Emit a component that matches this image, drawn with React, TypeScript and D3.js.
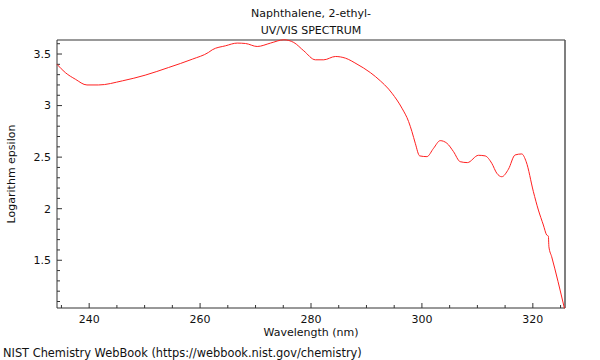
import React from 'react'
import * as d3 from 'd3'

// spectrum: wavelength (nm) and log epsilon
const wavelengths = [
  234.2, 235.7, 237.5, 239.6, 241.7, 246.0, 250.1, 254.3, 258.6, 261.5, 262.2, 264.6,
  266.7, 268.2, 270.3, 272.7, 275.1, 276.9, 278.7, 280.8, 282.3, 284.4, 286.2, 288.3,
  290.7, 292.5, 294.0, 294.6, 296.4, 297.6, 298.2, 298.8, 299.6, 300.9, 302.1, 303.3,
  304.5, 305.7, 306.9, 308.2, 310.2, 311.4, 312.6, 313.5, 314.4, 315.6, 316.8, 318.0,
  318.8, 320.1, 321.0, 321.9, 322.5, 322.8, 322.9, 323.4, 325.7,
]
const logEpsilon = [
  3.40, 3.32, 3.256, 3.20, 3.20, 3.24, 3.295, 3.369, 3.45, 3.515, 3.541, 3.58,
  3.606, 3.602, 3.573, 3.606, 3.638, 3.612, 3.531, 3.444, 3.444, 3.476, 3.46, 3.402,
  3.32, 3.24, 3.16, 3.12, 2.975, 2.845, 2.748, 2.635, 2.512, 2.505, 2.586, 2.66,
  2.635, 2.553, 2.456, 2.447, 2.518, 2.512, 2.44, 2.344, 2.31, 2.383, 2.521, 2.531,
  2.456, 2.165, 1.987, 1.842, 1.745, 1.735, 1.631, 1.534, 1.033,
]
const xTickValues = [240, 260, 280, 300, 320]
const yTickValues = [1.5, 2, 2.5, 3, 3.5]

const title = 'Naphthalene, 2-ethyl-'
const subtitle = 'UV/VIS SPECTRUM'

function App() {
  const width = 600
  const height = 360
  const margin = { top: 40, right: 35, bottom: 52, left: 57 }
  const innerW = width - margin.left - margin.right
  const innerH = height - margin.top - margin.bottom

  const xScale = d3.scaleLinear().domain([234.2, 325.8]).range([0, innerW])
  const yScale = d3.scaleLinear().domain([1.037, 3.636]).range([innerH, 0])

  const points = wavelengths.map((w, i) => [w, logEpsilon[i]] as [number, number])
  const line = d3
    .line<[number, number]>()
    .x(d => xScale(d[0]))
    .y(d => yScale(d[1]))
    .curve(d3.curveMonotoneX)

  const xMinor = d3.range(235, 326, 5).filter(t => !xTickValues.includes(t))
  const yMinor = d3.range(11, 37).map(v => v / 10).filter(t => !yTickValues.includes(t))

  const font = { fontFamily: '"DejaVu Sans", sans-serif', fontSize: 11, fill: '#111' }
  const cx = margin.left + innerW / 2

  return (
    <svg width={width} height={height} style={{ position: 'absolute', left: 0, top: 0 }}>
      <rect width={width} height={height} fill="white" />
      <text x={cx} y={17} textAnchor="middle" {...font}>{title}</text>
      <text x={cx} y={34} textAnchor="middle" {...font}>{subtitle}</text>

      <g transform={`translate(${margin.left} ${margin.top})`}>
        {/* frame: grey top and right, dark axes */}
        <line x1={0} x2={innerW} y1={0} y2={0} stroke="#999" strokeWidth={2} />
        <line x1={innerW} x2={innerW} y1={0} y2={innerH} stroke="#555" strokeWidth={1.5} />
        <line x1={0} x2={0} y1={0} y2={innerH} stroke="#333" />
        <line x1={0} x2={innerW} y1={innerH} y2={innerH} stroke="#333" />

        {xTickValues.map(t => (
          <g key={t} transform={`translate(${xScale(t)} ${innerH})`}>
            <line y2={-5} stroke="#333" />
            <text y={15} textAnchor="middle" {...font}>{t}</text>
          </g>
        ))}
        {xMinor.map(t => (
          <line key={t} x1={xScale(t)} x2={xScale(t)} y1={innerH} y2={innerH - 3} stroke="#333" />
        ))}

        {yTickValues.map(t => (
          <g key={t} transform={`translate(0 ${yScale(t)})`}>
            <line x2={5} stroke="#333" />
            <text x={-6} dy="0.35em" textAnchor="end" {...font}>{t}</text>
          </g>
        ))}
        {yMinor.map(t => (
          <line key={t} x1={0} x2={3} y1={yScale(t)} y2={yScale(t)} stroke="#333" />
        ))}

        <path d={line(points) ?? ''} fill="none" stroke="#ff2020" strokeWidth={1} />
      </g>

      <text x={cx} y={336} textAnchor="middle" {...font}>Wavelength (nm)</text>
      <text
        transform={`translate(15 ${margin.top + innerH / 2}) rotate(-90)`}
        textAnchor="middle"
        {...font}
      >
        Logarithm epsilon
      </text>
      <text x={3} y={357} {...font} fontSize={11.4}>NIST Chemistry WebBook (https://webbook.nist.gov/chemistry)</text>
    </svg>
  )
}

export default App
